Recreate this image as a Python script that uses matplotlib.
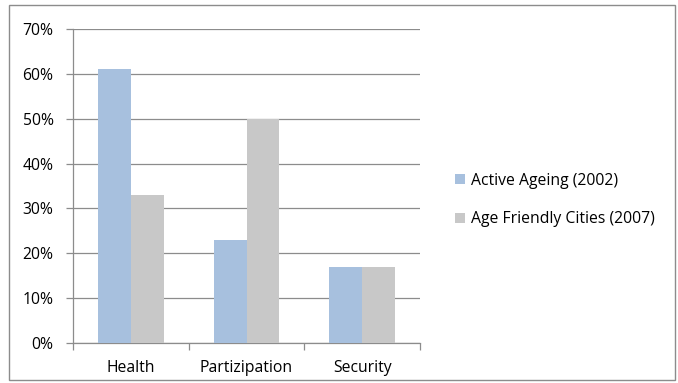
import matplotlib
matplotlib.use("Agg")
import matplotlib.pyplot as plt
from matplotlib.patches import Rectangle
from matplotlib.ticker import FixedLocator, FuncFormatter
import numpy as np

categories = ["Health", "Partizipation", "Security"]
active_ageing = [0.61, 0.23, 0.17]
age_friendly = [0.33, 0.50, 0.17]
series_labels = ["Active Ageing (2002)", "Age Friendly Cities (2007)"]
y_ticks = [0.0, 0.1, 0.2, 0.3, 0.4, 0.5, 0.6, 0.7]

blue = "#A7C0DE"
grey = "#C8C8C8"
axis_col = "#8C8C8C"
fs = 11.3

plt.rcParams["font.family"] = ["Open Sans", "DejaVu Sans"]

fig = plt.figure(figsize=(6.78, 3.83), dpi=100)
fig.patches.append(Rectangle((0.014, 0.008), 0.982, 0.98, transform=fig.transFigure,
                             fill=False, edgecolor="#8C8C8C", linewidth=1.0))

ax = fig.add_axes([0.1077, 0.1044, 0.5118, 0.8199])
x = np.arange(len(categories))
w = 0.285
ax.bar(x - w / 2, active_ageing, w, color=blue, label=series_labels[0], zorder=3)
ax.bar(x + w / 2, age_friendly, w, color=grey, label=series_labels[1], zorder=3)

ax.set_xlim(-0.5, len(categories) - 0.5)
ax.set_ylim(0, 0.7)
ax.yaxis.set_major_locator(FixedLocator(y_ticks))
ax.yaxis.set_major_formatter(FuncFormatter(lambda v, p: f"{v * 100:.0f}%"))
ax.yaxis.grid(True, color="#8C8C8C", linewidth=0.9, zorder=0)

ax.set_xticks(x)
ax.set_xticklabels(categories)
ax.set_xticks(np.arange(-0.5, len(categories)), minor=True)
ax.tick_params(axis="x", which="major", length=0, pad=12, labelsize=fs, colors="black")
ax.tick_params(axis="x", which="minor", length=5, color=axis_col, width=0.9)
ax.tick_params(axis="y", length=5, color=axis_col, width=0.9, labelsize=fs, pad=9)

for side in ["top", "right"]:
    ax.spines[side].set_visible(False)
for side in ["left", "bottom"]:
    ax.spines[side].set_color(axis_col)
    ax.spines[side].set_linewidth(0.9)

fig.legend(loc="center left", bbox_to_anchor=(0.671, 0.478), frameon=False,
           fontsize=fs, handlelength=0.65, handleheight=0.65, handletextpad=0.35,
           labelspacing=1.45, borderaxespad=0, borderpad=0)

fig.savefig("out.png", dpi=100)
